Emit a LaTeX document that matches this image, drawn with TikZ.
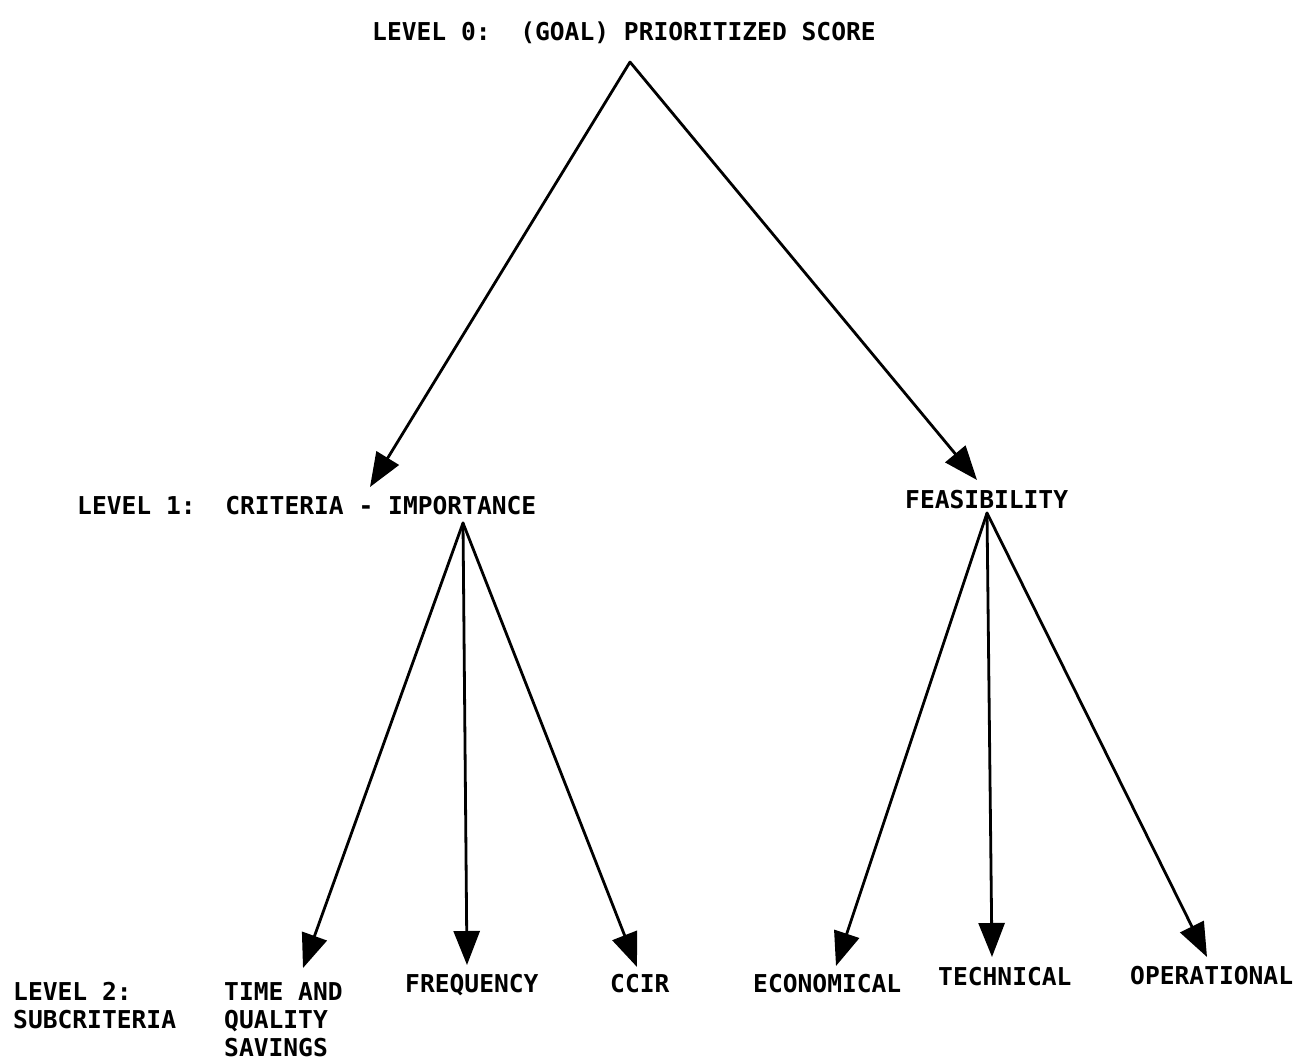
\documentclass[tikz,border=0pt]{standalone}
\usepackage{fontspec}
\setmonofont{DejaVu Sans Mono}
\usetikzlibrary{arrows.meta}
\begin{document}
\begin{tikzpicture}[x=1pt,y=-1pt,
  lbl/.style={font=\ttfamily\bfseries\fontsize{24.6}{28}\selectfont, inner sep=0pt, anchor=north west, align=left},
  arr/.style={line width=2.8pt, line cap=round, -{Triangle[length=34pt,width=26pt]}},
]
\useasboundingbox[fill=white] (0,0) rectangle (1295,1062);
% texts
\node[lbl] (goal) at (372,22) {LEVEL 0:\ \ (GOAL) PRIORITIZED SCORE};
\node[lbl] (lev1) at (77,496) {LEVEL 1:\ \ CRITERIA - IMPORTANCE};
\node[lbl] (feas) at (905,490) {FEASIBILITY};
\node[lbl] (lev2) at (13,982) {LEVEL 2:\\SUBCRITERIA};
\node[lbl] (time) at (224,982) {TIME AND\\QUALITY\\SAVINGS};
\node[lbl] (freq) at (405,974) {FREQUENCY};
\node[lbl] (ccir) at (610,974) {CCIR};
\node[lbl] (econ) at (753,974) {ECONOMICAL};
\node[lbl] (tech) at (938,967) {TECHNICAL};
\node[lbl] (oper) at (1130,966) {OPERATIONAL};
% connector ends
\coordinate (g0) at (630,62);
\coordinate (i0) at (463,523);
\coordinate (f0) at (987,513);
\coordinate (imptip) at (370,487);
\coordinate (feastip) at (977,480);
\coordinate (timetip) at (303,968);
\coordinate (freqtip) at (467,965);
\coordinate (ccirtip) at (637,967);
\coordinate (econtip) at (836,966);
\coordinate (techtip) at (992,957);
\coordinate (opertip) at (1207,957);
% connectors
\draw[arr] (g0) -- (imptip);
\draw[arr] (g0) -- (feastip);
\draw[arr] (i0) -- (timetip);
\draw[arr] (i0) -- (freqtip);
\draw[arr] (i0) -- (ccirtip);
\draw[arr] (f0) -- (econtip);
\draw[arr] (f0) -- (techtip);
\draw[arr] (f0) -- (opertip);
\end{tikzpicture}
\end{document}
